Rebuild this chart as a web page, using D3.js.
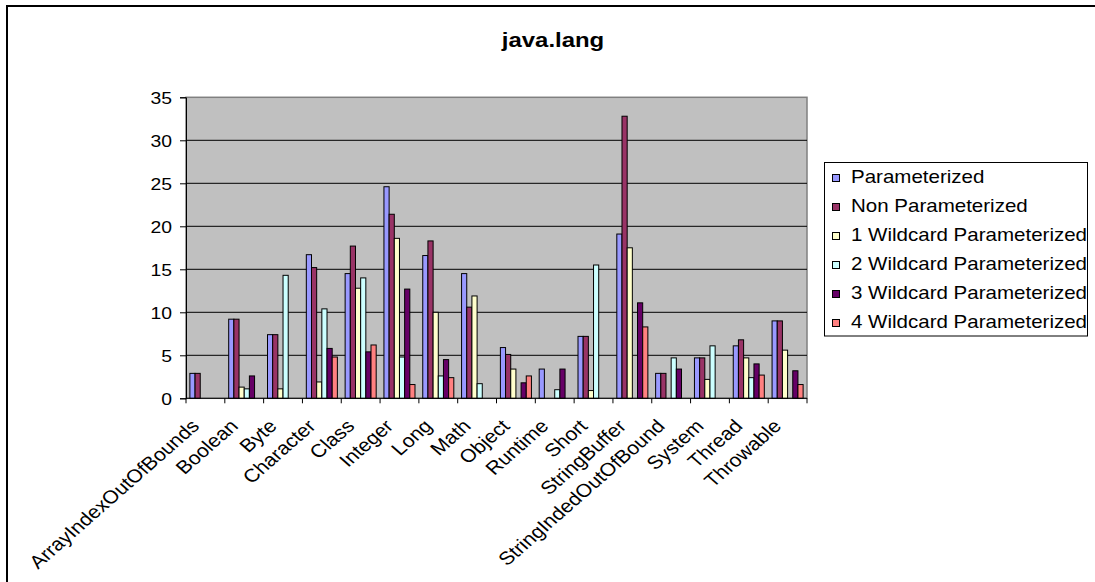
<!DOCTYPE html>
<html>
<head>
<meta charset="utf-8">
<script src="https://cdn.jsdelivr.net/npm/d3@7/dist/d3.min.js"></script>
<style>
  html, body { margin: 0; padding: 0; background: #fff; }
  svg { display: block; font-family: "Liberation Sans", Arial, sans-serif; }
</style>
</head>
<body>
<svg id="chart" width="1095" height="582"></svg>
<script>
// Classes in java.lang and how often each kind of use occurs (percent)
const categories = ["ArrayIndexOutOfBounds", "Boolean", "Byte", "Character", "Class", "Integer",
  "Long", "Math", "Object", "Runtime", "Short", "StringBuffer", "StringIndedOutOfBound",
  "System", "Thread", "Throwable"];

const seriesNames = ["Parameterized", "Non Parameterized", "1 Wildcard Parameterized",
  "2 Wildcard Parameterized", "3 Wildcard Parameterized", "4 Wildcard Parameterized"];

const parameterized    = [2.9, 9.2, 7.4, 16.7, 14.5, 24.6, 16.6, 14.5, 5.9, 3.4, 7.2, 19.1, 2.9, 4.7, 6.1, 9.0];
const nonParameterized = [2.9, 9.2, 7.4, 15.2, 17.7, 21.4, 18.3, 10.6, 5.1, 0, 7.2, 32.8, 2.9, 4.7, 6.8, 9.0];
const wildcard1        = [0, 1.3, 1.1, 1.9, 12.8, 18.6, 10.0, 11.9, 3.4, 0, 0.9, 17.5, 0, 2.2, 4.7, 5.6];
const wildcard2        = [0, 1.1, 14.3, 10.4, 14.0, 4.8, 2.6, 1.7, 0, 1.0, 15.5, 0, 4.7, 6.1, 2.4, 0];
const wildcard3        = [0, 2.6, 0, 5.8, 5.4, 12.7, 4.5, 0, 1.8, 3.4, 0, 11.1, 3.4, 0, 4.0, 3.2];
const wildcard4        = [0, 0, 0, 4.8, 6.2, 1.6, 2.4, 0, 2.6, 0, 0, 8.3, 0, 0, 2.7, 1.6];

const yTicks = [0, 5, 10, 15, 20, 25, 30, 35];

const seriesValues = [parameterized, nonParameterized, wildcard1, wildcard2, wildcard3, wildcard4];
const colors = ["#9999FF", "#993366", "#FFFFCC", "#CCFFFF", "#660066", "#FF8080"];

const SX = 1.14; // horizontal stretch applied to all text

const svg = d3.select("#chart");

// outer chart frame
svg.append("rect")
  .attr("x", 7).attr("y", 6).attr("width", 1110).attr("height", 600)
  .attr("fill", "#fff").attr("stroke", "#000").attr("stroke-width", 2);

const plot = { left: 186, right: 807, top: 97.3, bottom: 398.3 };

const x = d3.scaleBand().domain(categories).range([plot.left, plot.right]).padding(0);
const step = x.step();
const barW = step / 7.5;           // gap width 150%
const groupOffset = step * 0.75 / 7.5;
const xInner = d3.scaleBand().domain(d3.range(seriesNames.length))
  .range([groupOffset, groupOffset + barW * seriesNames.length]).padding(0);

const y = d3.scaleLinear().domain([0, 35]).range([plot.bottom, plot.top]);

// plot background
svg.append("rect")
  .attr("x", plot.left).attr("y", plot.top)
  .attr("width", plot.right - plot.left).attr("height", plot.bottom - plot.top)
  .attr("fill", "#C0C0C0").attr("stroke", "#808080").attr("stroke-width", 1.5);

// horizontal gridlines
svg.append("g").selectAll("line")
  .data(yTicks.filter(t => t > 0 && t < 35))
  .join("line")
  .attr("x1", plot.left).attr("x2", plot.right)
  .attr("y1", d => y(d)).attr("y2", d => y(d))
  .attr("stroke", "#000").attr("stroke-width", 1);

// bars
const groups = svg.append("g").selectAll("g")
  .data(seriesValues)
  .join("g")
  .attr("fill", (d, i) => colors[i]);

groups.selectAll("rect")
  .data((vals, si) => vals.map((v, ci) => ({ v, ci, si })).filter(d => d.v > 0))
  .join("rect")
  .attr("x", d => x(categories[d.ci]) + xInner(d.si))
  .attr("width", barW)
  .attr("y", d => y(d.v))
  .attr("height", d => y(0) - y(d.v))
  .attr("stroke", "#000").attr("stroke-width", 1);

// y axis
const yAxis = svg.append("g")
  .attr("transform", `translate(${plot.left},0)`)
  .call(d3.axisLeft(y).tickValues(yTicks).tickSize(6).tickPadding(8));
yAxis.select(".domain").attr("stroke", "#000");
yAxis.selectAll(".tick line").attr("stroke", "#000");
yAxis.selectAll(".tick text")
  .attr("x", null).attr("dy", null)
  .attr("transform", "translate(-14,6) scale(" + SX + ",1)")
  .attr("fill", "#000").attr("font-size", 17).attr("font-family", null);

// x axis line and boundary ticks
const xAxis = svg.append("g");
xAxis.append("line")
  .attr("x1", plot.left).attr("x2", plot.right)
  .attr("y1", plot.bottom).attr("y2", plot.bottom)
  .attr("stroke", "#000");
const bounds = categories.map(c => x(c)).concat([plot.right]);
xAxis.selectAll("line.tick")
  .data(bounds)
  .join("line")
  .attr("class", "tick")
  .attr("x1", d => d).attr("x2", d => d)
  .attr("y1", plot.bottom).attr("y2", plot.bottom + 5)
  .attr("stroke", "#000");

// category labels, rotated
xAxis.selectAll("text")
  .data(categories)
  .join("text")
  .attr("transform", d => `translate(${x(d) + x.bandwidth() / 2 - 5},${plot.bottom + 29}) scale(${SX},1) rotate(-45)`)
  .attr("text-anchor", "end")
  .attr("font-size", 18.5)
  .attr("fill", "#000")
  .text(d => d);

// title
svg.append("text")
  .attr("transform", `translate(553,47) scale(${SX},1)`)
  .attr("text-anchor", "middle")
  .attr("font-size", 21).attr("font-weight", "bold")
  .text("java.lang");

// legend
const legend = svg.append("g");
legend.append("rect")
  .attr("x", 824.5).attr("y", 162.5).attr("width", 263).attr("height", 173.5)
  .attr("fill", "#fff").attr("stroke", "#000").attr("stroke-width", 1);
const items = legend.selectAll("g.item")
  .data(seriesNames)
  .join("g")
  .attr("class", "item")
  .attr("transform", (d, i) => `translate(832,${176 + i * 29})`);
items.append("rect")
  .attr("x", 0.5).attr("y", -1.5).attr("width", 7).attr("height", 7)
  .attr("fill", (d, i) => colors[i]).attr("stroke", "#000");
items.append("text")
  .attr("transform", `translate(19,6.5) scale(${SX},1)`)
  .attr("font-size", 18).attr("fill", "#000")
  .text(d => d);
</script>
</body>
</html>
